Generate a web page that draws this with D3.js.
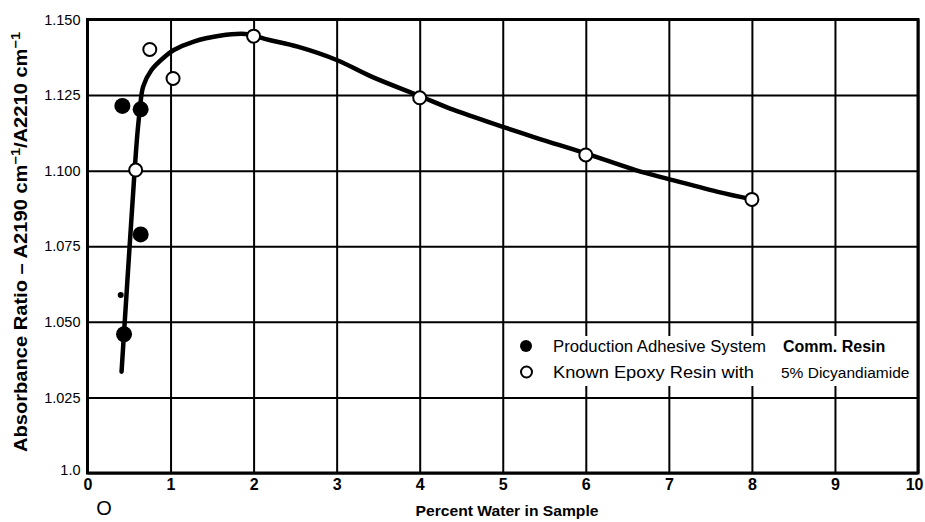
<!DOCTYPE html>
<html>
<head>
<meta charset="utf-8">
<script src="https://cdn.jsdelivr.net/npm/d3@7/dist/d3.min.js"></script>
<style>
  html, body { margin: 0; padding: 0; background: #fff; }
  svg { display: block; }
  text { font-family: "Liberation Sans", Arial, Helvetica, sans-serif; fill: #000; }
</style>
</head>
<body>
<svg id="chart" width="925" height="522"></svg>
<script>
// ---- data ----
const xTicks = [0, 1, 2, 3, 4, 5, 6, 7, 8, 9, 10];
const xTickLabels = ["0", "1", "2", "3", "4", "5", "6", "7", "8", "9", "10"];
const yTicks = [1.0, 1.025, 1.05, 1.075, 1.1, 1.125, 1.15];
const yTickLabels = ["1.0", "1.025", "1.050", "1.075", "1.100", "1.125", "1.150"];

// Production Adhesive System (filled)
const prodX = [0.42, 0.64, 0.64, 0.44];
const prodY = [1.1214, 1.1203, 1.0789, 1.0459];
// small stray mark on the curve
const markX = [0.40];
const markY = [1.0589];

// Known Epoxy Resin with 5% Dicyandiamide (open)
const epoxyX = [0.58, 0.75, 1.03, 2.0, 4.0, 6.0, 8.0];
const epoxyY = [1.1002, 1.1401, 1.1305, 1.1445, 1.1241, 1.1052, 1.0905];

// fitted curve
const curveX = [0.41, 0.48, 0.56, 0.60, 0.63, 0.67, 0.77, 0.93, 1.04, 1.28, 1.59, 1.9, 2.19, 2.53, 3.0, 3.42, 4.0, 4.41, 5.0, 5.42, 6.0, 6.6, 7.0, 7.59, 8.0];
const curveY = [1.0335, 1.0635, 1.0970, 1.1120, 1.1201, 1.1278, 1.1333, 1.1377, 1.1399, 1.1427, 1.1446, 1.1452, 1.1432, 1.1410, 1.1366, 1.1311, 1.1247, 1.1201, 1.1145, 1.1107, 1.1057, 1.1002, 1.0972, 1.0930, 1.0905];

const legendItems = [
  { filled: true,  label: "Production Adhesive System", extra: "Comm. Resin", extraBold: true },
  { filled: false, label: "Known Epoxy Resin with", extra: "5% Dicyandiamide", extraBold: false }
];

// ---- layout ----
const svg = d3.select("#chart");
const L = 87.5, R = 918, T = 19.5, B = 473;
const x = d3.scaleLinear().domain([0, 10]).range([L, R]);
const y = d3.scaleLinear().domain([1.0, 1.15]).range([B, T]);

// vertical grid + x tick labels
const xAxis = d3.axisBottom(x)
  .tickValues(xTicks)
  .tickSize(-(B - T))
  .tickPadding(6)
  .tickFormat((d, i) => xTickLabels[i]);
const gx = svg.append("g").attr("transform", `translate(0,${B})`).call(xAxis);
gx.select(".domain").remove();
gx.selectAll(".tick line").attr("stroke", "#000").attr("stroke-width", 2);
gx.selectAll(".tick text")
  .attr("font-size", 16).attr("font-weight", "bold")
  .style("font-family", '"Liberation Sans Narrow", "Liberation Sans", Arial, sans-serif')
  .attr("fill", "#000");
gx.selectAll(".tick").filter(d => d === 10).select("text")
  .attr("text-anchor", "end").attr("dx", 5);

// horizontal grid + y tick labels
const yAxis = d3.axisLeft(y)
  .tickValues(yTicks)
  .tickSize(-(R - L))
  .tickPadding(7)
  .tickFormat((d, i) => yTickLabels[i]);
const gy = svg.append("g").attr("transform", `translate(${L},0)`).call(yAxis);
gy.select(".domain").remove();
gy.selectAll(".tick line").attr("stroke", "#000").attr("stroke-width", 2);
gy.selectAll(".tick text").attr("font-size", 14.5).attr("fill", "#000");
gy.selectAll(".tick").filter(d => d === 1.0).select("text").attr("dy", "0.1em");

// frame
svg.append("rect")
  .attr("x", L).attr("y", T).attr("width", R - L).attr("height", B - T)
  .attr("fill", "none").attr("stroke", "#000").attr("stroke-width", 3);

// legend background (covers grid)
svg.append("rect")
  .attr("x", 509).attr("y", 336).attr("width", 407).attr("height", 50)
  .attr("fill", "#fff");

// curve
const line = d3.line()
  .x(d => x(d[0])).y(d => y(d[1]))
  .curve(d3.curveCatmullRom.alpha(0.5));
svg.append("path")
  .datum(curveX.map((v, i) => [v, curveY[i]]))
  .attr("d", line)
  .attr("fill", "none").attr("stroke", "#000").attr("stroke-width", 4.5)
  .attr("stroke-linecap", "round");

// stray mark
svg.selectAll("circle.mark").data(markX).enter().append("circle")
  .attr("class", "mark")
  .attr("cx", (d) => x(d)).attr("cy", (d, i) => y(markY[i])).attr("r", 3)
  .attr("fill", "#000");

// filled points
svg.selectAll("circle.prod").data(prodX).enter().append("circle")
  .attr("class", "prod")
  .attr("cx", d => x(d)).attr("cy", (d, i) => y(prodY[i])).attr("r", 8)
  .attr("fill", "#000");

// open points
svg.selectAll("circle.epoxy").data(epoxyX).enter().append("circle")
  .attr("class", "epoxy")
  .attr("cx", d => x(d)).attr("cy", (d, i) => y(epoxyY[i])).attr("r", 6.5)
  .attr("fill", "#fff").attr("stroke", "#000").attr("stroke-width", 2);

// legend
const legRowY = [346, 372];
const labelLens = [213, 201];
const extraX = [783, 781];
const extraSize = [16, 15.5];
legendItems.forEach((it, i) => {
  const g = svg.append("g");
  if (it.filled) {
    g.append("circle").attr("cx", 526).attr("cy", legRowY[i]).attr("r", 6).attr("fill", "#000");
  } else {
    g.append("circle").attr("cx", 526.5).attr("cy", legRowY[i]).attr("r", 5.5)
      .attr("fill", "#fff").attr("stroke", "#000").attr("stroke-width", 2);
  }
  g.append("text").attr("x", 553).attr("y", legRowY[i]).attr("dy", "0.36em")
    .attr("font-size", 16).attr("textLength", labelLens[i]).attr("lengthAdjust", "spacingAndGlyphs")
    .text(it.label);
  g.append("text").attr("x", extraX[i]).attr("y", legRowY[i]).attr("dy", "0.36em")
    .attr("font-size", extraSize[i]).attr("font-weight", it.extraBold ? "bold" : "normal")
    .text(it.extra);
});

// y axis title
const yt = svg.append("text")
  .attr("transform", "translate(27,242) rotate(-90)")
  .attr("text-anchor", "middle")
  .attr("font-size", 18).attr("font-weight", "bold")
  .attr("textLength", 420).attr("lengthAdjust", "spacingAndGlyphs");
yt.append("tspan").text("Absorbance  Ratio – A2190 cm");
yt.append("tspan").attr("baseline-shift", "super").attr("font-size", 13).text("−1");
yt.append("tspan").text("/A2210 cm");
yt.append("tspan").attr("baseline-shift", "super").attr("font-size", 13).text("−1");

// x axis title
svg.append("text")
  .attr("x", 507).attr("y", 511).attr("dy", "0.36em")
  .attr("text-anchor", "middle")
  .attr("font-size", 15).attr("font-weight", "bold")
  .attr("textLength", 183).attr("lengthAdjust", "spacingAndGlyphs")
  .style("font-family", '"Liberation Sans Narrow", "Liberation Sans", Arial, sans-serif')
  .text("Percent Water in Sample");

// stray "O" below the axis
svg.append("text")
  .attr("x", 104).attr("y", 508).attr("dy", "0.36em")
  .attr("text-anchor", "middle")
  .attr("font-size", 20)
  .text("O");
</script>
</body>
</html>
